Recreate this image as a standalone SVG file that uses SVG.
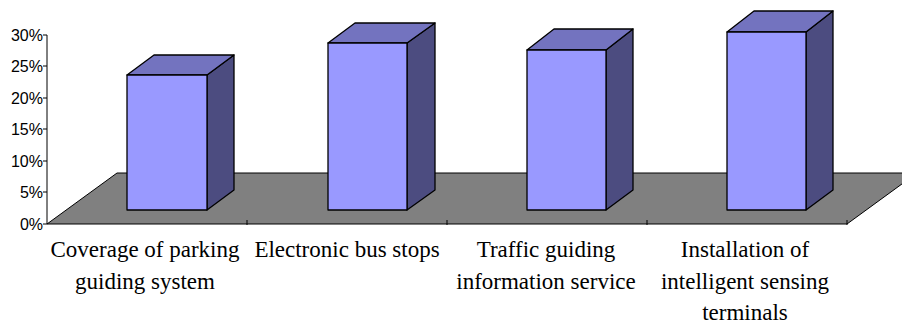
<svg xmlns="http://www.w3.org/2000/svg" width="902" height="326" viewBox="0 0 902 326">
  <style>
    .axis { stroke: #000; stroke-width: 1; fill: none; }
    .floor { fill: #808080; stroke: #000; stroke-width: 1; }
    .front { fill: #9999FF; stroke: #000; stroke-width: 1.3; stroke-linejoin: round; }
    .top { fill: #7373BF; stroke: #000; stroke-width: 1.3; stroke-linejoin: round; }
    .side { fill: #4C4C80; stroke: #000; stroke-width: 1.3; stroke-linejoin: round; }
    .ylab { font-family: "Liberation Sans", Arial, sans-serif; font-size: 16px; fill: #000; text-anchor: end; }
    .xlab { font-family: "Liberation Serif", "Times New Roman", serif; font-size: 23px; fill: #000; text-anchor: middle; }
  </style>
  <rect width="902" height="326" fill="#fff"/>

  <!-- floor plane -->
  <g id="floor">
    <polygon class="floor" points="47,224 117,173 917,173 847,224"/>
    <path class="axis" d="M247,220V225 M447,220V225 M647,220V225 M847,220V225"/>
  </g>

  <!-- value axis -->
  <g id="y-axis">
    <path class="axis" d="M47,35V224 M43,35H47 M43,66H47 M43,98H47 M43,129H47 M43,161H47 M43,192H47 M43,224H47"/>
    <text class="ylab" x="43" y="41">30%</text>
    <text class="ylab" x="43" y="72">25%</text>
    <text class="ylab" x="43" y="104">20%</text>
    <text class="ylab" x="43" y="135">15%</text>
    <text class="ylab" x="43" y="167">10%</text>
    <text class="ylab" x="43" y="198">5%</text>
    <text class="ylab" x="43" y="230">0%</text>
  </g>

  <!-- bars: front face, top, right side -->
  <g id="bar-parking">
    <polygon class="side" points="207,75 234,55 234,190 207,210"/>
    <polygon class="top" points="127,75 154,55 234,55 207,75"/>
    <rect class="front" x="127" y="75" width="80" height="135"/>
  </g>
  <g id="bar-bus-stops">
    <polygon class="side" points="407,43 435,23 435,190 407,210"/>
    <polygon class="top" points="328,43 355,23 435,23 407,43"/>
    <rect class="front" x="328" y="43" width="79" height="167"/>
  </g>
  <g id="bar-traffic-info">
    <polygon class="side" points="606,50 633,29 633,190 606,210"/>
    <polygon class="top" points="527,50 554,29 633,29 606,50"/>
    <rect class="front" x="527" y="50" width="79" height="160"/>
  </g>
  <g id="bar-sensing">
    <polygon class="side" points="806,32 833,11 833,190 806,210"/>
    <polygon class="top" points="727,32 754,11 833,11 806,32"/>
    <rect class="front" x="727" y="32" width="79" height="178"/>
  </g>

  <!-- category labels -->
  <g id="x-labels">
    <text class="xlab" x="145" y="257">Coverage of parking</text>
    <text class="xlab" x="145" y="289">guiding system</text>
    <text class="xlab" x="347" y="257">Electronic bus stops</text>
    <text class="xlab" x="546" y="257">Traffic guiding</text>
    <text class="xlab" x="546" y="289">information service</text>
    <text class="xlab" x="745" y="257">Installation of</text>
    <text class="xlab" x="745" y="289">intelligent sensing</text>
    <text class="xlab" x="745" y="320">terminals</text>
  </g>
</svg>
